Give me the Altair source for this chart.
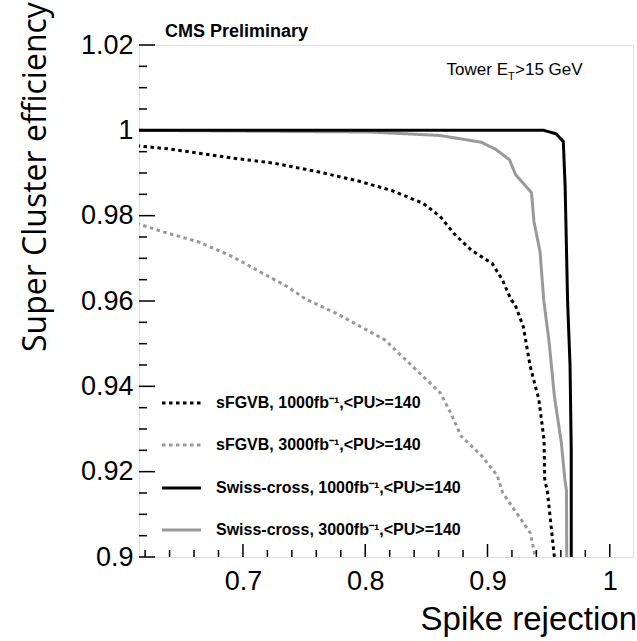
import altair as alt
import pandas as pd

# Axis ranges
X_DOMAIN = [0.615, 1.019]
Y_DOMAIN = [0.9, 1.02]

# Tick values
X_MAJOR = [0.7, 0.8, 0.9, 1.0]
X_MINOR = [0.62, 0.64, 0.66, 0.68, 0.72, 0.74, 0.76, 0.78, 0.82, 0.84, 0.86,
           0.88, 0.92, 0.94, 0.96, 0.98]
Y_MAJOR = [0.9, 0.92, 0.94, 0.96, 0.98, 1.0, 1.02]
Y_MINOR = [0.905, 0.91, 0.915, 0.925, 0.93, 0.935, 0.945, 0.95, 0.955, 0.965,
           0.97, 0.975, 0.985, 0.99, 0.995, 1.005, 1.01, 1.015]

# sFGVB, 1000 fb-1
sfgvb_1000_x = [0.613, 0.6406, 0.6915, 0.7255, 0.7594, 0.7934, 0.8217, 0.8472,
                0.8613, 0.8726, 0.8868, 0.9038, 0.9123, 0.9194, 0.9222, 0.9293,
                0.9349, 0.9420, 0.9462, 0.9468, 0.9491, 0.9547]
sfgvb_1000_y = [0.9964, 0.9956, 0.9935, 0.9923, 0.9904, 0.9882, 0.9859, 0.9829,
                0.9798, 0.9758, 0.9719, 0.9688, 0.9649, 0.9602, 0.9594, 0.9540,
                0.9447, 0.9369, 0.9276, 0.9183, 0.9151, 0.9000]

# sFGVB, 3000 fb-1
sfgvb_3000_x = [0.613, 0.6349, 0.6632, 0.6915, 0.7142, 0.7368, 0.7510, 0.7764,
                0.8160, 0.8273, 0.8500, 0.8613, 0.8698, 0.8783, 0.8953, 0.9080,
                0.9123, 0.9236, 0.9349, 0.9392]
sfgvb_3000_y = [0.9782, 0.9762, 0.9739, 0.9704, 0.9668, 0.9633, 0.9605, 0.9571,
                0.9509, 0.9478, 0.9416, 0.9385, 0.9338, 0.9284, 0.9237, 0.9191,
                0.9151, 0.9104, 0.9057, 0.9000]

# Swiss-cross, 1000 fb-1
swiss_1000_x = [0.613, 0.800, 0.946, 0.956, 0.962, 0.9635, 0.9655, 0.9675,
                0.9685, 0.9685]
swiss_1000_y = [1.0, 1.0, 1.0, 0.9992, 0.9974, 0.9868, 0.9600, 0.9450,
                0.9250, 0.9000]

# Swiss-cross, 3000 fb-1
swiss_3000_x = [0.613, 0.805, 0.861, 0.895, 0.907, 0.918, 0.923, 0.936, 0.938,
                0.943, 0.946, 0.9505, 0.9547, 0.9604, 0.9632, 0.9646, 0.9648]
swiss_3000_y = [1.0, 0.9996, 0.9988, 0.9972, 0.9955, 0.9931, 0.9896, 0.9854,
                0.9786, 0.9715, 0.9602, 0.9501, 0.9377, 0.9268, 0.9183, 0.9155,
                0.9000]

LABELS = [
    "sFGVB, 1000fb\u207b\u00b9,<PU>=140",
    "sFGVB, 3000fb\u207b\u00b9,<PU>=140",
    "Swiss-cross, 1000fb\u207b\u00b9,<PU>=140",
    "Swiss-cross, 3000fb\u207b\u00b9,<PU>=140",
]
CURVES = [
    (sfgvb_1000_x, sfgvb_1000_y),
    (sfgvb_3000_x, sfgvb_3000_y),
    (swiss_1000_x, swiss_1000_y),
    (swiss_3000_x, swiss_3000_y),
]
# line styles: colour, dash pattern
STYLES = [
    ("#000000", [3.5, 3.5]),
    ("#999999", [3.5, 3.5]),
    ("#000000", [1, 0]),
    ("#999999", [1, 0]),
]
DRAW_ORDER = [1, 3, 0, 2]

X_TITLE = "Spike rejection"
Y_TITLE = "Super Cluster efficiency"
CMS_TEXT = "CMS Preliminary"
CUT_TEXT = ["Tower E", "T", ">15 GeV"]

W, H = 494, 512
FONT = "Liberation Sans"

xs = alt.Scale(domain=X_DOMAIN, nice=False, zero=False)
ys = alt.Scale(domain=Y_DOMAIN, nice=False, zero=False)

# one shared axis definition per channel, used by every layer
X_AXIS = alt.Axis(values=X_MAJOR, format="~g", ticks=False, grid=False,
                  domain=False, labelFont=FONT, labelFontSize=27,
                  labelColor="black", labelPadding=11, labelOverlap=False,
                  labelFlush=False, title=None)
Y_AXIS = alt.Axis(values=Y_MAJOR, format="~g", ticks=False, grid=False,
                  domain=False, labelFont=FONT, labelFontSize=27,
                  labelColor="black", labelPadding=6, labelOverlap=False,
                  labelFlush=False, title=None)


def xenc(field):
    return alt.X(field, scale=xs, axis=X_AXIS)


def yenc(field):
    return alt.Y(field, scale=ys, axis=Y_AXIS)


layers = []

# curves
for i in DRAW_ORDER:
    cx, cy = CURVES[i]
    colour, dash = STYLES[i]
    df = pd.DataFrame({"x": cx, "y": cy, "o": range(len(cx))})
    layers.append(
        alt.Chart(df).mark_line(color=colour, strokeDash=dash, strokeWidth=3,
                                clip=True, strokeCap="butt")
        .encode(x=xenc("x:Q"), y=yenc("y:Q"), order="o:Q")
    )


# inward tick marks
def yticks(vals, length):
    return alt.Chart(pd.DataFrame({"v": vals})).mark_rule(
        color="black", strokeWidth=1.5).encode(
        y=yenc("v:Q"), x=alt.value(0), x2=alt.value(length))


def xticks(vals, length):
    return alt.Chart(pd.DataFrame({"v": vals})).mark_rule(
        color="black", strokeWidth=1.5).encode(
        x=xenc("v:Q"), y=alt.value(H), y2=alt.value(H - length))


layers += [yticks(Y_MAJOR, 16), yticks(Y_MINOR, 8),
           xticks(X_MAJOR, 13), xticks(X_MINOR, 7)]

# legend
LEG_Y = [358, 400, 443, 485]
for i in range(4):
    colour, dash = STYLES[i]
    layers.append(
        alt.Chart(pd.DataFrame({"t": [LABELS[i]]})).mark_rule(
            color=colour, strokeDash=dash, strokeWidth=3, strokeCap="butt")
        .encode(x=alt.value(23), x2=alt.value(62), y=alt.value(LEG_Y[i]))
    )
    layers.append(
        alt.Chart(pd.DataFrame({"t": [LABELS[i]]})).mark_text(
            align="left", baseline="middle", font=FONT, fontWeight="bold",
            fontSize=16, color="black")
        .encode(x=alt.value(77), y=alt.value(LEG_Y[i]), text="t:N")
    )


def label(text, x, y, size, weight="normal", align="left", font=FONT,
          angle=0, baseline="alphabetic", color="black"):
    return alt.Chart(pd.DataFrame({"t": [text]})).mark_text(
        align=align, baseline=baseline, font=font, fontSize=size,
        fontWeight=weight, angle=angle, color=color).encode(
        x=alt.value(x), y=alt.value(y), text="t:N")


layers += [
    label(CMS_TEXT, 26, -8, 18, weight="bold"),
    label(CUT_TEXT[0], 369, 30, 17, align="right"),
    label(CUT_TEXT[1], 369, 35, 11),
    label(CUT_TEXT[2], 376, 30, 17),
    label(X_TITLE, 498, 585, 33, align="right"),
    label(Y_TITLE, -93, 307, 32, font="Open Sans", angle=270),
]

chart = alt.layer(*layers).properties(
    width=W, height=H,
    padding={"left": 139, "top": 45, "right": 4, "bottom": 84},
    autosize=alt.AutoSizeParams(type="none"),
).configure_view(stroke="black", strokeWidth=2).configure(background="white")

chart.save("out.html", embed_options={"renderer": "svg", "actions": False})
